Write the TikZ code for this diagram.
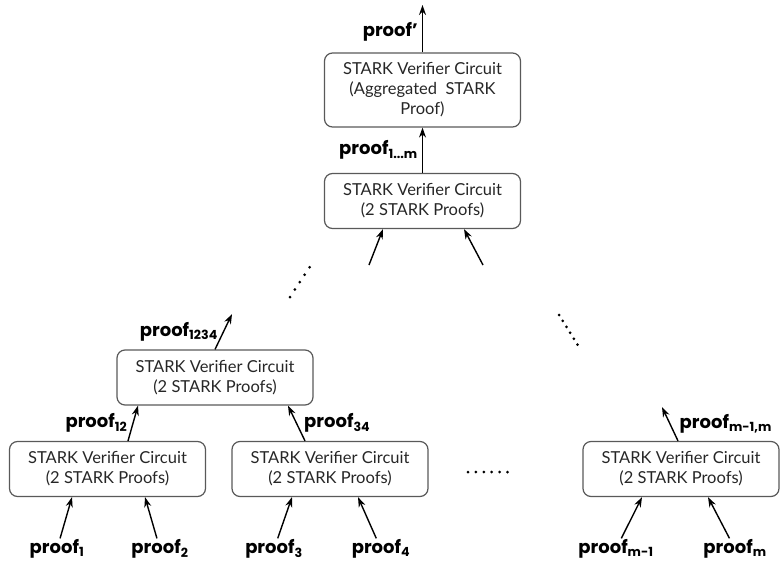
\documentclass[tikz,border=0pt]{standalone}
\usepackage{fontspec}
\setmainfont{Lato}
\newfontfamily\lblfont{Poppins}
\usetikzlibrary{arrows.meta,positioning}

\newcommand{\prf}[1]{proof\textsubscript{#1}}
\tikzset{
  verifier/.style={draw=black!65,line width=1.2pt,rounded corners=8pt,align=center,
    minimum width=196pt,minimum height=55pt,inner sep=2pt,text=black!85,
    font=\fontsize{16.5}{20}\selectfont},
  prf/.style={font=\lblfont\bfseries\fontsize{18}{20}\selectfont,inner sep=1pt},
  flow/.style={-{Stealth[length=10pt,width=7pt]},line width=1.4pt},
  dotline/.style={line width=3pt,line cap=round}
}

\begin{document}
\begin{tikzpicture}[x=1pt,y=-1pt]
      \useasboundingbox (0,0) rectangle (782,565);
      % verifier boxes
      \node(top)[verifier,minimum height=74pt] at (422.5,90)
        {STARK Verifier Circuit\\(Aggregated\ \ STARK\\Proof)};
      \node(sec)[verifier] at (422.5,201) {STARK Verifier Circuit\\(2 STARK Proofs)};
      \node(mid)[verifier] at (215,377.5) {STARK Verifier Circuit\\(2 STARK Proofs)};
      \node(v12)[verifier] at (107.5,469) {STARK Verifier Circuit\\(2 STARK Proofs)};
      \node(v34)[verifier] at (330,469) {STARK Verifier Circuit\\(2 STARK Proofs)};
      \node(vm)[verifier] at (681,469) {STARK Verifier Circuit\\(2 STARK Proofs)};
      % input proofs
      \node(p1)[prf] at (57,549) {\prf{1}};
      \node(p2)[prf] at (160,549) {\prf{2}};
      \node(p3)[prf] at (274,549) {\prf{3}};
      \node(p4)[prf] at (381,549) {\prf{4}};
      \node(pm1)[prf] at (616,549) {\prf{m-1}};
      \node(pm)[prf] at (735,549) {\prf{m}};
      % free ends
      \coordinate(out) at (422.5,5);
      \coordinate(s1) at (369,265);
      \coordinate(s2) at (483,265);
      \coordinate(o1234) at (232,314);
      \coordinate(omm) at (662,407);
      % leaves
      \path[flow] (p1) edge ([xshift=-35.5pt]v12.south);
      \path[flow] (p2) edge ([xshift=37.5pt]v12.south);
      \path[flow] (p3) edge ([xshift=-38pt]v34.south);
      \path[flow] (p4) edge ([xshift=28pt]v34.south);
      \path[flow] (pm1) edge ([xshift=-39pt]vm.south);
      \path[flow] (pm) edge ([xshift=27pt]vm.south);
      % upper levels
      \path[flow] ([xshift=20.5pt]v12.north) edge node[prf,left=4pt]{\prf{12}} ([xshift=-77pt]mid.south);
      \path[flow] ([xshift=-25pt]v34.north) edge node[prf,right=6pt]{\prf{34}} ([xshift=73pt]mid.south);
      \path[flow] (mid.north) edge node[prf,left=4pt]{\prf{1234}} (o1234);
      \path[flow] ([xshift=-3pt]vm.north) edge node[prf,right=8pt]{\prf{m-1,m}} (omm);
      \path[flow] (s1) edge ([xshift=-39.5pt]sec.south);
      \path[flow] (s2) edge ([xshift=41.5pt]sec.south);
      \path[flow] (sec) edge node[prf,left=3pt]{\prf{1...m}} (top);
      \path[flow] (top) edge node[prf,left=3pt,yshift=-3pt]{proof’} (out);
      % elided parts of the tree
      \draw[dotline,dash pattern=on 0pt off 8.9pt] (290,297) -- (310.5,266);
      \draw[dotline,dash pattern=on 0pt off 7pt] (559,315) -- (578,345.5);
      \draw[dotline,dash pattern=on 0pt off 7.9pt] (468,472) -- (508,472);
    \end{tikzpicture}
\end{document}
